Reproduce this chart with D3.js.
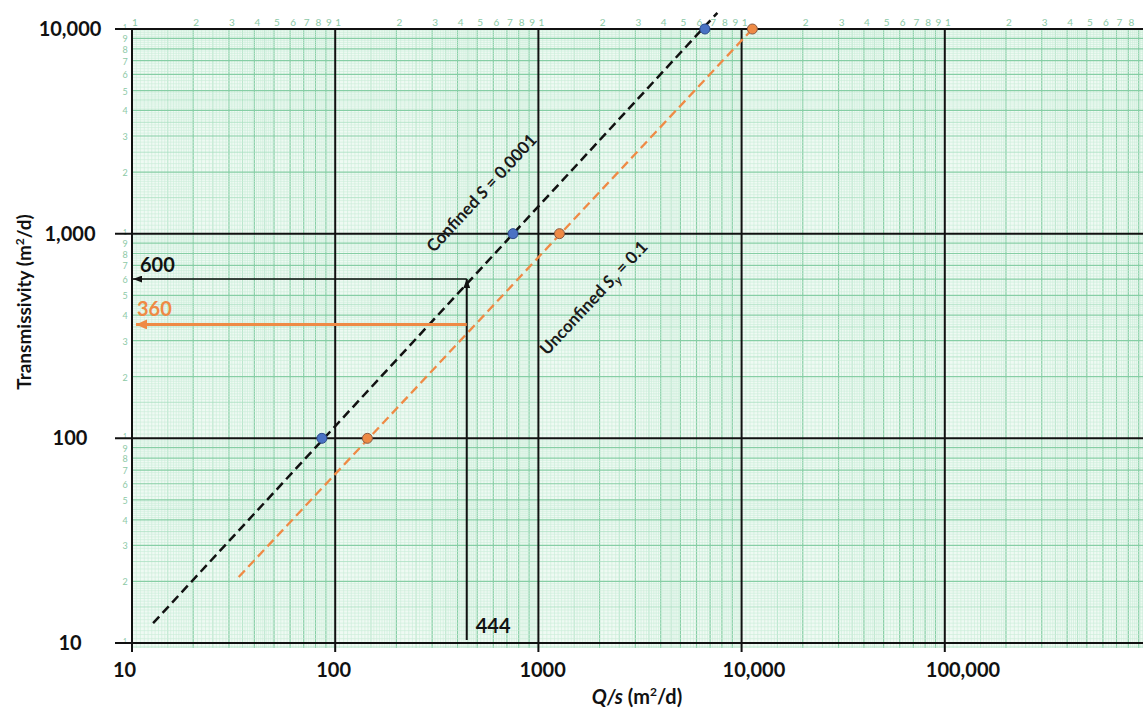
<!DOCTYPE html>
<html>
<head>
<meta charset="utf-8">
<script src="https://cdn.jsdelivr.net/npm/d3@7"></script>
<style>
  html, body { margin: 0; padding: 0; background: #fff; }
  svg { display: block; }
</style>
</head>
<body>
<svg id="chart" width="1143" height="708"></svg>
<script>
(function () {
// ---------- DATA ----------
const xTickValues = [10, 100, 1000, 10000, 100000];
const xTickLabels = ["10", "100", "1000", "10,000", "100,000"];
const yTickValues = [10, 100, 1000, 10000];
const yTickLabels = ["10", "100", "1,000", "10,000"];

// Confined aquifer (S = 0.0001) points: Q/s, T
const confinedQs = [86, 750, 6600];
const confinedT = [100, 1000, 10000];
const confinedLineQs = [12.7, 7600];
const confinedLineT = [12.5, 12000];

// Unconfined aquifer (Sy = 0.1) points
const unconfinedQs = [144, 1270, 11300];
const unconfinedT = [100, 1000, 10000];
const unconfinedLineQs = [33.5, 11300];
const unconfinedLineT = [21, 10000];

// Reading annotation
const readQs = 444;
const readTConfined = 600;
const readTUnconfined = 360;

// Line label anchor points (data coordinates)
const confinedLabelAt = [552, 1510];
const unconfinedLabelAt = [1963, 464];

const paperDigits = [1, 2, 3, 4, 5, 6, 7, 8, 9];

// ---------- SETUP ----------
const svg = d3.select("#chart");
const W = 1143, H = 708;
const x = d3.scaleLog().domain([10, 1e6]).range([132, 1148]);
const y = d3.scaleLog().domain([10, 10000]).range([643, 29]);
const pL = 132, pR = W, pT = 29, pB = 643;

const FONT = "Lato, 'Open Sans', sans-serif";
const GREEN_TXT = "#8cc9a6";

// plot background
svg.append("rect").attr("x", pL).attr("y", pT)
  .attr("width", pR - pL).attr("height", pB + 5 - pT)
  .attr("fill", "#effaf3");

function gridValues(lo, hi) {
  const out = [];
  for (let e = Math.log10(lo); e < Math.log10(hi); e++) {
    const base = Math.pow(10, e);
    let m = 1;
    while (m < 9.999) {
      const step = m < 1.999 ? 0.05 : (m < 4.999 ? 0.1 : 0.2);
      const mr = Math.round(m * 100) / 100;
      let kind = "fine";
      if (Math.abs(mr - Math.round(mr)) < 1e-6) kind = "int";
      else if (mr < 5 && Math.abs(mr * 2 - Math.round(mr * 2)) < 1e-6) kind = "half";
      if (!(kind === "int" && mr === 1)) out.push({ v: base * mr, kind });
      m = mr + step;
    }
  }
  return out;
}
const style = {
  fine: { c: "#c9ecd8", w: 0.6 },
  half: { c: "#a9e0c2", w: 0.8 },
  int: { c: "#86cea5", w: 1.2 }
};

const grid = svg.append("g");
const xg = gridValues(10, 1e6).filter(d => x(d.v) <= W);
grid.selectAll("line.vx").data(xg.filter(d => d.kind === "fine").concat(xg.filter(d => d.kind !== "fine")))
  .join("line")
  .attr("x1", d => x(d.v)).attr("x2", d => x(d.v))
  .attr("y1", pT).attr("y2", pB + 5)
  .attr("stroke", d => style[d.kind].c).attr("stroke-width", d => style[d.kind].w);
const yg = gridValues(10, 10000);
grid.selectAll("line.hy").data(yg.filter(d => d.kind === "fine").concat(yg.filter(d => d.kind !== "fine")))
  .join("line")
  .attr("y1", d => y(d.v)).attr("y2", d => y(d.v))
  .attr("x1", pL).attr("x2", pR)
  .attr("stroke", d => style[d.kind].c).attr("stroke-width", d => style[d.kind].w);
grid.append("line").attr("x1", pL).attr("x2", pR).attr("y1", pB + 4).attr("y2", pB + 4)
  .attr("stroke", "#b5e4ca").attr("stroke-width", 0.8);

function mant(v) {
  return String(Math.round(v / Math.pow(10, Math.floor(Math.log10(v) + 1e-9))));
}

// green paper digits on top
const topDigits = [];
for (let e = 1; e < 6; e++) paperDigits.forEach(dg => topDigits.push(dg * Math.pow(10, e)));
svg.append("g").selectAll("text").data(topDigits.filter(v => x(v) < W - 8))
  .join("text")
  .attr("x", v => x(v) + 3).attr("y", 26)
  .attr("text-anchor", "middle")
  .attr("font-family", FONT).attr("font-size", 10).attr("fill", GREEN_TXT)
  .text(mant);

// green paper digits on left
const leftDigits = [];
for (let e = 1; e < 4; e++) paperDigits.forEach(dg => leftDigits.push(dg * Math.pow(10, e)));
leftDigits.push(10000);
svg.append("g").selectAll("text").data(leftDigits)
  .join("text")
  .attr("x", 125).attr("y", v => y(v) + (mant(v) === "1" ? 1 : 4))
  .attr("text-anchor", "middle")
  .attr("font-family", FONT).attr("font-size", v => mant(v) === "1" ? 7 : 9).attr("fill", GREEN_TXT)
  .text(mant);

// black decade lines
const decades = svg.append("g");
decades.selectAll("line.dx").data(xTickValues).join("line")
  .attr("x1", d => x(d)).attr("x2", d => x(d))
  .attr("y1", pT).attr("y2", pB + 9)
  .attr("stroke", "#111").attr("stroke-width", 2);
decades.selectAll("line.dy").data(yTickValues).join("line")
  .attr("y1", d => y(d)).attr("y2", d => y(d))
  .attr("x1", 115).attr("x2", pR)
  .attr("stroke", "#111").attr("stroke-width", 2);

// axis tick labels
svg.append("g").selectAll("text").data(xTickValues).join("text")
  .attr("x", d => x(d) - 19).attr("y", 677)
  .attr("font-family", FONT).attr("font-weight", "bold").attr("font-size", 20).attr("fill", "#111")
  .text((d, i) => xTickLabels[i]);
svg.append("g").selectAll("text").data(yTickValues).join("text")
  .attr("x", 70).attr("y", d => y(d) + 7)
  .attr("text-anchor", "middle")
  .attr("font-family", FONT).attr("font-weight", "bold").attr("font-size", 20).attr("fill", "#111")
  .text((d, i) => yTickLabels[i]);

// axis titles
const yt = svg.append("text")
  .attr("transform", "translate(31,302) rotate(-90)")
  .attr("text-anchor", "middle")
  .attr("font-family", FONT).attr("font-weight", "bold").attr("font-size", 19).attr("fill", "#111");
yt.append("tspan").text("Transmissivity (m");
yt.append("tspan").attr("font-size", 12).attr("dy", -7).text("2");
yt.append("tspan").attr("dy", 7).text("/d)");

const xt = svg.append("text")
  .attr("x", 637).attr("y", 704)
  .attr("text-anchor", "middle")
  .attr("font-family", FONT).attr("font-weight", "bold").attr("font-size", 20).attr("fill", "#111");
xt.append("tspan").attr("font-style", "italic").text("Q/s");
xt.append("tspan").text(" (m");
xt.append("tspan").attr("font-size", 12).attr("dy", -8).text("2");
xt.append("tspan").attr("dy", 8).text("/d)");

// dashed fit lines
const lineGen = d3.line().x(d => x(d[0])).y(d => y(d[1]));
svg.append("path")
  .attr("d", lineGen(d3.zip(confinedLineQs, confinedLineT)))
  .attr("fill", "none").attr("stroke", "#111").attr("stroke-width", 2.5)
  .attr("stroke-dasharray", "9,5");
svg.append("path")
  .attr("d", lineGen(d3.zip(unconfinedLineQs, unconfinedLineT)))
  .attr("fill", "none").attr("stroke", "#ef8a45").attr("stroke-width", 2.3)
  .attr("stroke-dasharray", "9,5");

// arrow markers
const defs = svg.append("defs");
function arrowHead(id, color, w, h) {
  defs.append("marker").attr("id", id)
    .attr("viewBox", `0 0 ${w} ${h}`).attr("refX", w).attr("refY", h / 2)
    .attr("markerWidth", w).attr("markerHeight", h)
    .attr("markerUnits", "userSpaceOnUse").attr("orient", "auto")
    .append("path").attr("d", `M0,0 L${w},${h / 2} L0,${h} Z`).attr("fill", color);
}
arrowHead("ahBlack", "#111", 9, 7);
arrowHead("ahOrange", "#ef8a45", 11, 10);

svg.append("line")
  .attr("x1", x(readQs)).attr("x2", x(readQs))
  .attr("y1", pB - 3).attr("y2", y(readTConfined))
  .attr("stroke", "#111").attr("stroke-width", 2)
  .attr("marker-end", "url(#ahBlack)");
svg.append("line")
  .attr("x1", x(readQs)).attr("x2", pL + 1)
  .attr("y1", y(readTConfined)).attr("y2", y(readTConfined))
  .attr("stroke", "#111").attr("stroke-width", 1.6)
  .attr("marker-end", "url(#ahBlack)");
svg.append("line")
  .attr("x1", x(readQs)).attr("x2", pL + 4)
  .attr("y1", y(readTUnconfined)).attr("y2", y(readTUnconfined))
  .attr("stroke", "#ef8a45").attr("stroke-width", 3.2)
  .attr("marker-end", "url(#ahOrange)");

svg.append("text").attr("x", pL + 8).attr("y", y(readTConfined) - 7)
  .attr("font-family", FONT).attr("font-weight", "bold").attr("font-size", 20).attr("fill", "#111")
  .text(String(readTConfined));
svg.append("text").attr("x", pL + 5).attr("y", y(readTUnconfined) - 8)
  .attr("font-family", FONT).attr("font-weight", "bold").attr("font-size", 20).attr("fill", "#ef8a45")
  .text(String(readTUnconfined));
svg.append("text").attr("x", x(readQs) + 9).attr("y", 633)
  .attr("font-family", FONT).attr("font-weight", "bold").attr("font-size", 20).attr("fill", "#111")
  .text(String(readQs));

// points
svg.append("g").selectAll("circle").data(d3.zip(confinedQs, confinedT)).join("circle")
  .attr("cx", d => x(d[0])).attr("cy", d => y(d[1])).attr("r", 5)
  .attr("fill", "#4a72c4").attr("stroke", "#2c4a8a").attr("stroke-width", 1);
svg.append("g").selectAll("circle").data(d3.zip(unconfinedQs, unconfinedT)).join("circle")
  .attr("cx", d => x(d[0])).attr("cy", d => y(d[1])).attr("r", 5)
  .attr("fill", "#ee8a45").attr("stroke", "#8a5a44").attr("stroke-width", 1);

// line labels rotated along lines
function angleOf(qs, t) {
  return Math.atan2(y(t[1]) - y(t[0]), x(qs[1]) - x(qs[0])) * 180 / Math.PI;
}
const ca = angleOf(confinedLineQs, confinedLineT);
const cl = svg.append("text")
  .attr("transform", `translate(${x(confinedLabelAt[0])},${y(confinedLabelAt[1])}) rotate(${ca})`)
  .attr("text-anchor", "middle")
  .attr("font-family", FONT).attr("font-size", 17).attr("font-weight", "bold").attr("fill", "#1a1a1a");
cl.append("tspan").text("Confined ");
cl.append("tspan").attr("font-style", "italic").text("S");
cl.append("tspan").text(" = 0.0001");

const ua = angleOf(unconfinedLineQs, unconfinedLineT);
const ul = svg.append("text")
  .attr("transform", `translate(${x(unconfinedLabelAt[0])},${y(unconfinedLabelAt[1])}) rotate(${ua})`)
  .attr("text-anchor", "middle")
  .attr("font-family", FONT).attr("font-size", 17).attr("font-weight", "bold").attr("fill", "#1a1a1a");
ul.append("tspan").text("Unconfined ");
ul.append("tspan").attr("font-style", "italic").text("S");
ul.append("tspan").attr("font-style", "italic").attr("font-size", 12).attr("dy", 4).text("y");
ul.append("tspan").attr("dy", -4).text(" = 0.1");
})();
</script>
</body>
</html>
